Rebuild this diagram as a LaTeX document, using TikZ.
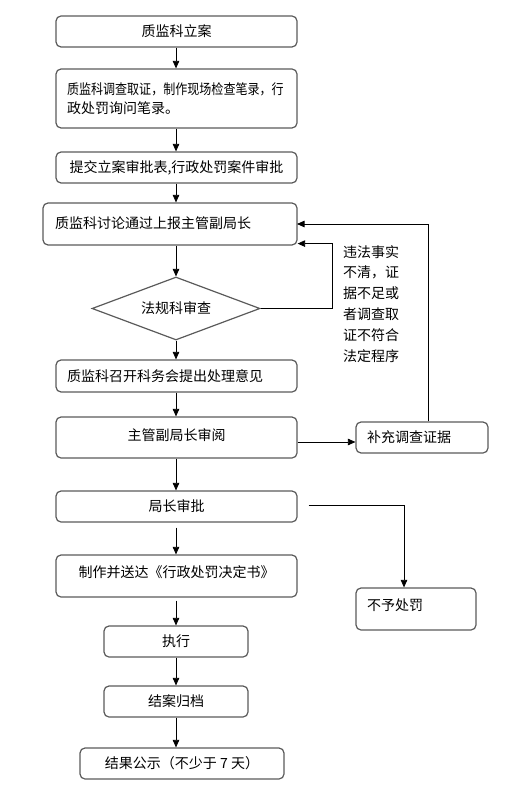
\documentclass[tikz,border=0pt]{standalone}
\usepackage{fontspec}
\setmainfont{Noto Sans CJK SC}
\usetikzlibrary{shapes.geometric,arrows.meta}
\definecolor{bordergray}{HTML}{5A5A5A}
\begin{document}
\begin{tikzpicture}[x=1pt,y=-1pt,
  basebox/.style={draw=bordergray, line width=1.2pt, rounded corners=5pt, inner sep=0pt,
    font=\fontsize{14}{19}\selectfont},
  box/.style={basebox, text height=12pt, text depth=1.5pt},
  lbox/.style={box, align=left, inner xsep=11pt},
  dia/.style={draw=bordergray, line width=1.2pt, diamond, aspect=2.67, inner sep=0pt,
    minimum width=168pt, minimum height=63pt, font=\fontsize{14}{19}\selectfont},
  arr/.style={draw=black, line width=0.8pt, -{Triangle[width=6.5pt,length=7.5pt]}},
  lbl/.style={align=left, inner sep=0pt, font=\fontsize{14}{20.8}\selectfont}
]
\useasboundingbox (0,0) rectangle (506,794);

\node[box, minimum width=241pt, minimum height=31pt] (b1) at (176.5,31.5) {质监科立案};
\node[basebox, align=left, inner xsep=11pt, minimum width=241pt, minimum height=59pt, text width=219pt] (b2) at (176.5,98.5)
  {\scalebox{0.86}[1]{质监科调查取证，制作现场检查笔录，行}\\政处罚询问笔录。};
\node[box, minimum width=241pt, minimum height=31pt] (b3) at (176.5,167.5) {提交立案审批表,行政处罚案件审批};
\node[lbox, minimum width=254pt, minimum height=42pt, text width=230pt, inner xsep=12pt, text depth=3.5pt] (b4) at (170,224) {质监科讨论通过上报主管副局长};
\node[dia] (d) at (176,308.5) {法规科审查};
\node[lbox, minimum width=241pt, minimum height=32pt, text width=219pt] (b5) at (176.5,376) {质监科召开科务会提出处理意见};
\node[box, minimum width=241pt, minimum height=41pt, text depth=6.5pt] (b6) at (176.5,437.5) {主管副局长审阅};
\node[lbox, minimum width=132pt, minimum height=31pt, text width=110pt] (b7) at (422,437.5) {补充调查证据};
\node[box, minimum width=241pt, minimum height=31pt] (b8) at (176.5,506.5) {局长审批};
\node[box, minimum width=241pt, minimum height=42pt, text depth=9.5pt] (b10) at (176.5,576) {制作并送达《行政处罚决定书》};
\node[lbox, minimum width=120pt, minimum height=42pt, text width=98pt, text depth=9.5pt] (b9) at (416,609) {不予处罚};
\node[box, minimum width=144pt, minimum height=31pt] (b11) at (176,641.5) {执行};
\node[box, minimum width=144pt, minimum height=31pt] (b12) at (176,701.5) {结案归档};
\node[box, minimum width=204pt, minimum height=31pt] (b13) at (182,763.5) {结果公示（不少于 7 天）};

\node[lbl, anchor=north west] (note) at (343,245)
  {违法事实\\不清，证\\据不足或\\者调查取\\证不符合\\法定程序};

\draw[arr] (b1.south -| 176,0) -- (b2.north -| 176,0);
\draw[arr] (b2.south -| 176,0) -- (b3.north -| 176,0);
\draw[arr] (b3.south -| 176,0) -- (b4.north -| 176,0);
\draw[arr] (b4.south -| d.north) -- (d.north);
\draw[arr] (d.south) -- (b5.north -| d.south);
\draw[arr] (b5.south -| 176,0) -- (b6.north -| 176,0);
\draw[arr] (b6.south -| 176,0) -- (b8.north -| 176,0);
\draw[arr] ([yshift=-5pt]b8.south -| 176,0) -- (b10.north -| 176,0);
\draw[arr] ([yshift=-3pt]b10.south -| 176,0) -- (b11.north);
\draw[arr] (b11.south) -- (b12.north);
\draw[arr] (b12.south) -- (b12.south |- b13.north);

\draw[arr] (d.east) -- ++(72,0) |- ([yshift=2pt]b4.south east);
\draw[arr] ([xshift=6pt]b7.north) |- (b4.east -| 297,0);
\draw[arr] ([yshift=-4.5pt]b6.east) -- ([yshift=-4.5pt]b7.west);
\draw[arr] ([xshift=11pt,yshift=1.5pt]b8.east) -| ([xshift=-12pt]b9.north);
\end{tikzpicture}
\end{document}
